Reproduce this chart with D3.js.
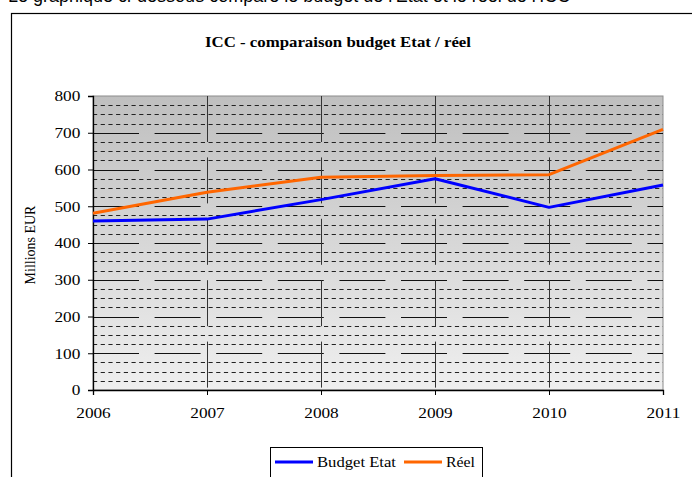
<!DOCTYPE html>
<html>
<head>
<meta charset="utf-8">
<script src="https://cdn.jsdelivr.net/npm/d3@7"></script>
<style>
  html, body { margin: 0; padding: 0; background: #fff; overflow: hidden; }
  svg { display: block; }
</style>
</head>
<body>
<svg id="canvas" width="692" height="477"></svg>
<script>
// ===== Data =====
const years = [2006, 2007, 2008, 2009, 2010, 2011];
const budgetEtat = [460, 465, 518, 575, 497, 558];
const reel = [481, 538, 579, 584, 586, 709];
const yTicks = [0, 100, 200, 300, 400, 500, 600, 700, 800];
const minorTicks = d3.range(25, 800, 25).filter(v => v % 100 !== 0);

const series = [
  { name: "Budget Etat", values: budgetEtat, color: "#0000ff" },
  { name: "Réel", values: reel, color: "#ff6600" }
];

const svg = d3.select("#canvas");
const serif = "'Liberation Serif', 'Times New Roman', serif";

// zone de tracé
const plotLeft = 93, plotRight = 663, plotTop = 96, plotBottom = 390;

const x = d3.scaleLinear().domain([2006, 2011]).range([plotLeft, plotRight]);
const y = d3.scaleLinear().domain([0, 800]).range([plotBottom, plotTop]);

// texte coupé au-dessus du cadre (comme sur l'original)
svg.append("text")
  .attr("x", 8).attr("y", 2)
  .attr("font-family", "Arial, 'Liberation Sans', sans-serif")
  .attr("font-size", 18)
  .attr("fill", "#000")
  .text("Le graphique ci-dessous compare le budget de l'Etat et le réel de l'ICC");

// cadre du graphique
svg.append("rect")
  .attr("x", 11.5).attr("y", 13.5)
  .attr("width", 700).attr("height", 500)
  .attr("fill", "#fff")
  .attr("stroke", "#000")
  .attr("stroke-width", 1.2);

// titre
svg.append("text")
  .attr("x", 338).attr("y", 47)
  .attr("text-anchor", "middle")
  .attr("font-family", serif)
  .attr("font-weight", "bold")
  .attr("font-size", 15)
  .attr("textLength", 266)
  .attr("lengthAdjust", "spacingAndGlyphs")
  .text("ICC - comparaison budget Etat / réel");

// fond dégradé
const defs = svg.append("defs");
const grad = defs.append("linearGradient")
  .attr("id", "bg").attr("x1", 0).attr("y1", 0).attr("x2", 0).attr("y2", 1);
grad.append("stop").attr("offset", "0%").attr("stop-color", "#bfbfbf");
grad.append("stop").attr("offset", "100%").attr("stop-color", "#efefef");

svg.append("rect")
  .attr("x", plotLeft).attr("y", plotTop)
  .attr("width", plotRight - plotLeft).attr("height", plotBottom - plotTop)
  .attr("fill", "url(#bg)")
  .attr("stroke", "#8c8c8c")
  .attr("stroke-width", 1);

const grid = svg.append("g");

// quadrillage secondaire
grid.selectAll(".minor")
  .data(minorTicks)
  .enter()
  .append("line")
  .attr("class", "minor")
  .attr("x1", plotLeft).attr("x2", plotRight)
  .attr("y1", d => Math.round(y(d)) + 0.5)
  .attr("y2", d => Math.round(y(d)) + 0.5)
  .attr("stroke", "#222")
  .attr("stroke-width", 1)
  .attr("stroke-dasharray", "4.2,3.5");

// quadrillage principal
grid.selectAll(".major")
  .data(yTicks.slice(1, -1))
  .enter()
  .append("line")
  .attr("class", "major")
  .attr("x1", plotLeft).attr("x2", plotRight)
  .attr("y1", d => Math.round(y(d)) + 0.5)
  .attr("y2", d => Math.round(y(d)) + 0.5)
  .attr("stroke", "#111")
  .attr("stroke-width", 1)
  .attr("stroke-dasharray", "46,15.6");

// verticales
grid.selectAll(".vgrid")
  .data(years.slice(1, -1))
  .enter()
  .append("line")
  .attr("class", "vgrid")
  .attr("x1", d => Math.round(x(d)) + 0.5)
  .attr("x2", d => Math.round(x(d)) + 0.5)
  .attr("y1", plotTop).attr("y2", plotBottom)
  .attr("stroke", "#333")
  .attr("stroke-width", 1)
  .attr("stroke-dasharray", "46,15.4");

// axes
const yAxis = svg.append("g")
  .attr("transform", `translate(${plotLeft},0)`)
  .call(d3.axisLeft(y).tickValues(yTicks).tickSize(5).tickPadding(6).tickFormat(d3.format("d")));
const xAxis = svg.append("g")
  .attr("transform", `translate(0,${plotBottom})`)
  .call(d3.axisBottom(x).tickValues(years).tickSize(5).tickPadding(12).tickFormat(d3.format("d")));

[yAxis, xAxis].forEach(a => {
  a.select(".domain").attr("stroke", "#000").attr("stroke-width", 1.3);
  a.selectAll(".tick line").attr("stroke", "#000");
  a.selectAll("text")
    .attr("font-family", serif)
    .attr("font-size", 15)
    .attr("fill", "#000")
    .attr("transform", "scale(1.15,1)");
});

// titre de l'axe
svg.append("text")
  .attr("transform", "translate(35,245) scale(1.1,1) rotate(-90)")
  .attr("text-anchor", "middle")
  .attr("font-family", serif)
  .attr("font-size", 14)
  .text("Millions EUR");

// courbes
const line = d3.line()
  .x((d, i) => x(years[i]))
  .y(d => y(d));

svg.selectAll(".serie")
  .data(series)
  .enter()
  .append("path")
  .attr("class", "serie")
  .attr("d", d => line(d.values))
  .attr("fill", "none")
  .attr("stroke", d => d.color)
  .attr("stroke-width", 3)
  .attr("stroke-linejoin", "round");

// légende
const legend = svg.append("g");
legend.append("rect")
  .attr("x", 270.5).attr("y", 447.5)
  .attr("width", 212).attr("height", 40)
  .attr("fill", "#fff")
  .attr("stroke", "#000")
  .attr("stroke-width", 1);

const legendPos = [275, 404];
const legendTextLen = [79, 29];
const item = legend.selectAll(".item")
  .data(series)
  .enter()
  .append("g")
  .attr("class", "item")
  .attr("transform", (d, i) => `translate(${legendPos[i]},462)`);

item.append("line")
  .attr("x1", 0).attr("x2", 38)
  .attr("stroke", d => d.color)
  .attr("stroke-width", 3);

item.append("text")
  .attr("x", 42).attr("y", 5)
  .attr("font-family", serif)
  .attr("font-size", 14)
  .attr("textLength", (d, i) => legendTextLen[i])
  .attr("lengthAdjust", "spacingAndGlyphs")
  .text(d => d.name);
</script>
</body>
</html>
